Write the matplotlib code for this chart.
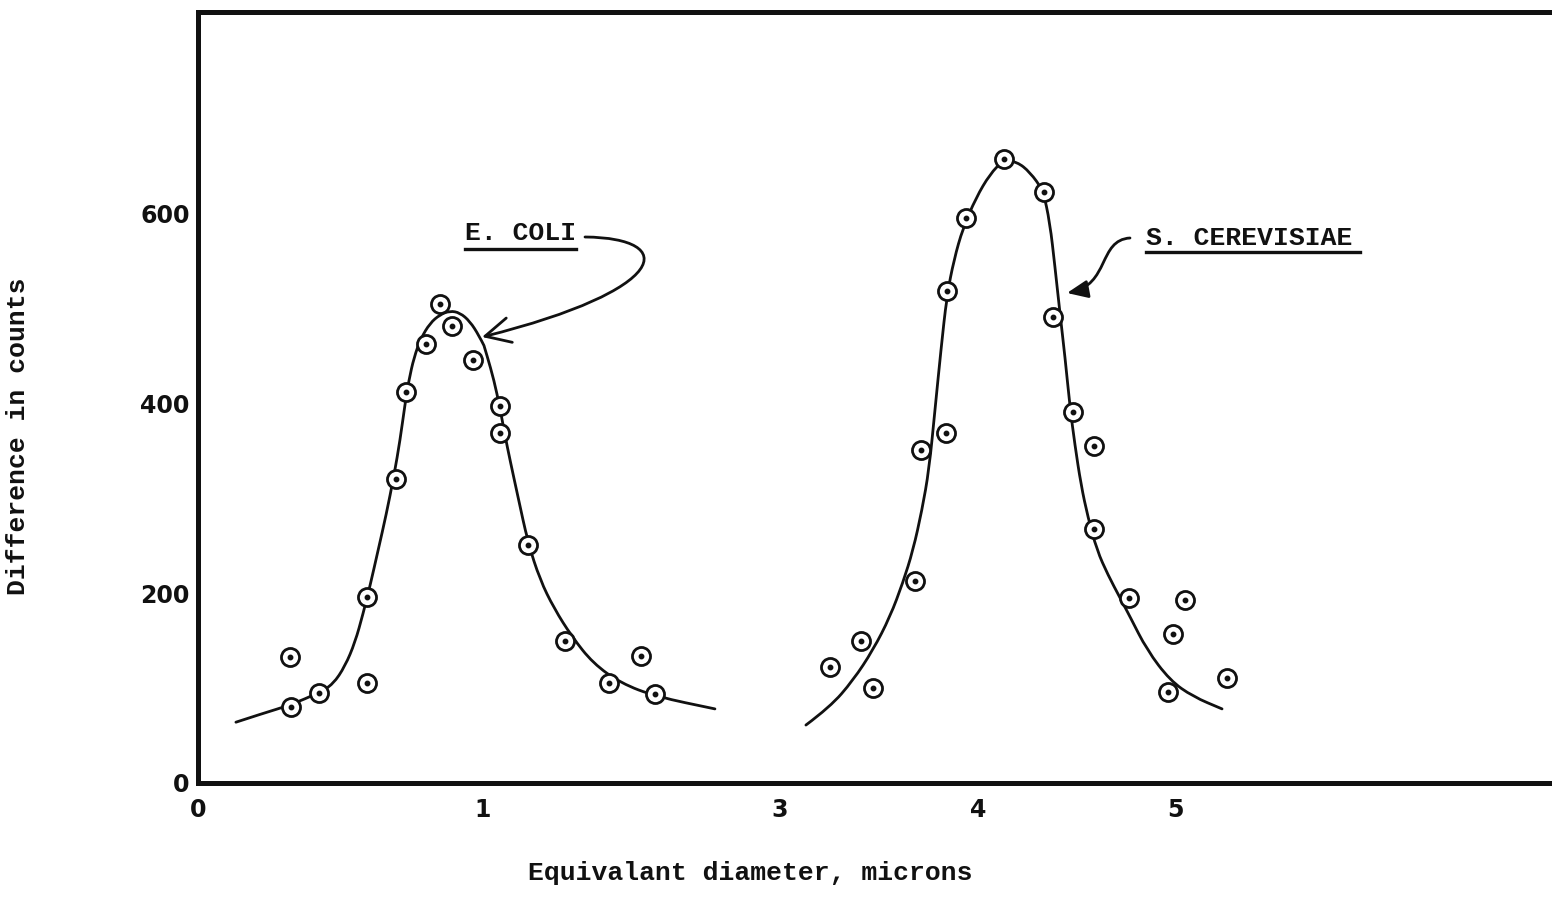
import numpy as np
import matplotlib.pyplot as plt
from matplotlib.patches import FancyArrowPatch, PathPatch
from matplotlib.path import Path
from matplotlib.lines import Line2D

# measured points, E. coli
coli_x = [0.323, 0.326, 0.425, 0.593, 0.593, 0.695, 0.730, 0.800, 0.849, 0.891,
          0.965, 1.114, 1.114, 1.303, 1.552, 1.848, 2.064, 2.158]
coli_y = [133, 80, 95, 196, 105, 320, 412, 462, 504, 481,
          445, 397, 368, 251, 150, 105, 134, 94]

# measured points, S. cerevisiae
cer_x = [3.253, 3.409, 3.470, 3.682, 3.712, 3.838, 3.843, 3.939, 4.132, 4.335,
         4.381, 4.482, 4.589, 4.589, 4.766, 4.964, 4.990, 5.051, 5.264]
cer_y = [122, 150, 100, 213, 351, 368, 518, 595, 657, 622,
         491, 391, 355, 267, 195, 96, 157, 193, 111]

# hand drawn curves through the points
coli_cx = [0.133, 0.225, 0.323, 0.425, 0.474, 0.516, 0.551, 0.579, 0.604, 0.632,
           0.660, 0.688, 0.709, 0.726, 0.740, 0.758, 0.782, 0.814, 0.849, 0.884,
           0.919, 0.954, 0.986, 1.027, 1.074, 1.114, 1.148, 1.182, 1.236, 1.303,
           1.384, 1.478, 1.599, 1.741, 1.929, 2.165, 2.562]
coli_cy = [64, 73, 82, 95, 104, 123, 148, 178, 208, 245,
           282, 324, 361, 398, 424, 448, 468, 484, 493, 497,
           495, 486, 471, 450, 424, 395, 366, 340, 301, 253,
           214, 184, 154, 126, 105, 91, 78]

cer_cx = [3.131, 3.253, 3.369, 3.470, 3.556, 3.621, 3.672, 3.717, 3.753, 3.783,
          3.813, 3.843, 3.879, 3.924, 3.990, 4.061, 4.127, 4.198, 4.264, 4.330,
          4.365, 4.391, 4.416, 4.442, 4.467, 4.492, 4.523, 4.558, 4.604, 4.660,
          4.721, 4.772, 4.858, 4.975, 5.091, 5.239]
cer_cy = [61, 80, 108, 140, 175, 211, 245, 287, 330, 393,
          456, 513, 551, 584, 616, 641, 655, 654, 643, 624,
          590, 543, 495, 448, 396, 356, 314, 280, 245, 219,
          195, 175, 140, 108, 91, 78]

xticks = [0, 1, 3, 4, 5]
yticks = [0, 200, 400, 600]

# the diameter axis is stretched between 0 and 1
knots_x = np.array([0.0, 1.0, 3.0, 4.0, 5.0])
knots_p = np.array([0.0, 285.0, 582.0, 780.0, 977.0])


def fwd(x):
    x = np.asarray(x, dtype=float)
    p = np.interp(x, knots_x, knots_p)
    p = np.where(x > 5, 977.0 + (x - 5) * 197.0, p)
    p = np.where(x < 0, x * 285.0, p)
    return p


def inv(p):
    p = np.asarray(p, dtype=float)
    x = np.interp(p, knots_p, knots_x)
    x = np.where(p > 977, 5 + (p - 977.0) / 197.0, x)
    x = np.where(p < 0, p / 285.0, x)
    return x


def pen_stroke(xs, ys):
    # quadratic segments between midpoints, so the line has no corners
    pts = list(zip(xs, ys))
    verts = [pts[0]]
    codes = [Path.MOVETO]
    for i in range(1, len(pts) - 1):
        mid = ((pts[i][0] + pts[i + 1][0]) / 2, (pts[i][1] + pts[i + 1][1]) / 2)
        verts += [pts[i], mid]
        codes += [Path.CURVE3, Path.CURVE3]
    verts.append(pts[-1])
    codes.append(Path.LINETO)
    return Path(verts, codes)


mono = ['Liberation Mono', 'DejaVu Sans Mono']
ink = '#111111'

fig = plt.figure(figsize=(15.52, 8.99), dpi=100, facecolor='white')
ax = fig.add_axes([198 / 1552, 1 - 783 / 899, 1354 / 1552, 771 / 899])
ax.set_xscale('function', functions=(fwd, inv))
ax.set_xlim(0, 6.914)
ax.set_ylim(0, 811.6)

for cx, cy in [(coli_cx, coli_cy), (cer_cx, cer_cy)]:
    ax.add_patch(PathPatch(pen_stroke(cx, cy), facecolor='none', edgecolor=ink,
                           lw=2.0, capstyle='round', zorder=2))

for xs, ys in [(coli_x, coli_y), (cer_x, cer_y)]:
    ax.plot(xs, ys, 'o', ms=13, mfc='white', mec=ink, mew=2.0, ls='none', zorder=3)
    ax.plot(xs, ys, 'o', ms=3.2, color=ink, ls='none', zorder=4)

for side in ['left', 'bottom', 'top']:
    ax.spines[side].set_linewidth(3.6)
    ax.spines[side].set_color(ink)
ax.spines['right'].set_visible(False)

ax.set_xticks(xticks)
ax.set_xticklabels([str(t) for t in xticks])
ax.set_yticks(yticks)
ax.set_yticklabels([str(t) for t in yticks])
ax.tick_params(length=0, labelsize=17, labelcolor=ink)
ax.tick_params(axis='x', pad=11)
ax.tick_params(axis='y', pad=6)
for lab in ax.get_xticklabels() + ax.get_yticklabels():
    lab.set_fontweight('bold')

fig.text(18 / 1552, 1 - 436 / 899, 'Difference in counts', rotation=90,
         ha='center', va='center', family=mono, weight='bold', fontsize=19, color=ink)
fig.text(750 / 1552, 1 - 873 / 899, 'Equivalant diameter, microns',
         ha='center', va='center', family=mono, weight='bold', fontsize=19, color=ink)

# species labels, underlined
fig.text(465 / 1552, 1 - 233 / 899, 'E. COLI', ha='left', va='center',
         family=mono, weight='bold', fontsize=19, color=ink)
fig.text(1146 / 1552, 1 - 238 / 899, 'S. CEREVISIAE', ha='left', va='center',
         family=mono, weight='bold', fontsize=19, color=ink)
fig.add_artist(Line2D([465 / 1552, 576 / 1552], [1 - 249 / 899] * 2,
                      color=ink, lw=2.4, transform=fig.transFigure))
fig.add_artist(Line2D([1146 / 1552, 1360 / 1552], [1 - 252 / 899] * 2,
                      color=ink, lw=2.4, transform=fig.transFigure))


def px(x, y):
    return (x / 1552, 1 - y / 899)


coli_path = Path([px(585, 237), px(680, 238), px(670, 290), px(482, 337)],
                 [Path.MOVETO, Path.CURVE4, Path.CURVE4, Path.CURVE4])
fig.add_artist(FancyArrowPatch(path=coli_path, arrowstyle='->,head_length=0.9,head_width=0.45',
                               mutation_scale=20, lw=2.0, color=ink,
                               transform=fig.transFigure))

cer_path = Path([px(1130, 238), px(1098, 240), px(1110, 285), px(1067, 293)],
                [Path.MOVETO, Path.CURVE4, Path.CURVE4, Path.CURVE4])
fig.add_artist(FancyArrowPatch(path=cer_path, arrowstyle='-|>,head_length=0.7,head_width=0.3',
                               mutation_scale=18, lw=2.0, color=ink,
                               transform=fig.transFigure))

fig.savefig('out.png', dpi=100, facecolor='white')
